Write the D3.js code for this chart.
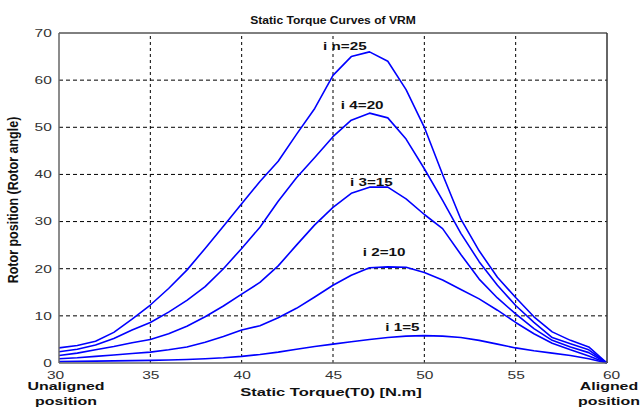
<!DOCTYPE html>
<html>
<head>
<meta charset="utf-8">
<script src="https://cdn.jsdelivr.net/npm/d3@7"></script>
<style>
  html, body { margin: 0; padding: 0; background: #fff; }
  svg { display: block; }
  text { font-family: "Liberation Sans", Arial, sans-serif; }
  .tick text { font-size: 10.7px; fill: #333; }
  .lbl { font-weight: bold; fill: #111; }
</style>
</head>
<body>
<div id="chart"></div>
<script>
const width = 640;
const height = 408;
const margin = { top: 33, right: 33, bottom: 45, left: 59 };
const SX = 1.45; // the source picture is stretched sideways, so text is too

// static torque values (x axis)
const torque = [30, 31, 32, 33, 34, 35, 36, 37, 38, 39, 40, 41, 42, 43, 44, 45,
  46, 47, 48, 49, 50, 51, 52, 53, 54, 55, 56, 57, 58, 59, 60];

const curveNames = ['i n=25', 'i 4=20', 'i 3=15', 'i 2=10', 'i 1=5'];

const i25 = [3.2, 3.7, 4.6, 6.5, 9.3, 12.3, 15.8, 19.7, 24.3, 29, 33.8, 38.5, 42.8, 48.5, 54, 61,
  65, 66, 64, 58, 50, 40, 30.5, 23.8, 18.2, 13.9, 9.8, 6.6, 4.8, 3.4, 0];
const i20 = [2.4, 2.9, 3.8, 5.2, 7, 8.6, 10.8, 13.3, 16.2, 20, 24.3, 28.8, 34.3, 39.3, 43.6, 48,
  51.5, 53, 52, 47.5, 41.2, 34.5, 27.5, 21.5, 16.5, 12.2, 8.6, 5.4, 4.1, 2.8, 0];
const i15 = [1.6, 2.1, 2.8, 3.5, 4.3, 5, 6.2, 7.8, 9.8, 12.1, 14.6, 17.1, 20.6, 25, 29.3, 33,
  36, 37.3, 37.3, 34.8, 31.5, 28.5, 23, 17.8, 13.8, 10.4, 7.3, 4.8, 3.4, 2.2, 0];
const i10 = [0.9, 1.1, 1.4, 1.7, 2, 2.3, 2.8, 3.4, 4.4, 5.6, 7, 7.9, 9.6, 11.6, 14, 16.5,
  18.6, 20.2, 20.4, 20.3, 19.2, 17.6, 15.6, 13.6, 11.2, 8.6, 6.2, 4.2, 2.8, 1.5, 0];
const i5 = [0.3, 0.35, 0.4, 0.45, 0.5, 0.55, 0.65, 0.75, 0.9, 1.1, 1.4, 1.8, 2.3, 2.9, 3.5, 4,
  4.5, 5, 5.4, 5.7, 5.8, 5.7, 5.4, 4.8, 4, 3.2, 2.6, 2.1, 1.6, 0.9, 0];

// where each curve name sits, in data units [torque, angle]
const labelAt = [[45.65, 67.2], [46.6, 54.7], [47.1, 38.4], [47.8, 23.4], [48.8, 7.6]];

const xTicks = [30, 35, 40, 45, 50, 55, 60];
const yTicks = [0, 10, 20, 30, 40, 50, 60, 70];

const series = [i25, i20, i15, i10, i5];

const svg = d3.select('#chart')
  .append('svg')
  .attr('width', width)
  .attr('height', height);

const x = d3.scaleLinear().domain([30, 60]).range([margin.left, width - margin.right]);
const y = d3.scaleLinear().domain([0, 70]).range([height - margin.bottom, margin.top]);

// bold stretched label helper
function label(px, py, txt, size, sx = SX) {
  return svg.append('text')
    .attr('class', 'lbl')
    .attr('transform', `translate(${px},${py}) scale(${sx},1)`)
    .attr('dy', '0.36em')
    .attr('text-anchor', 'middle')
    .style('font-size', size + 'px')
    .text(txt);
}

// grid
svg.append('g')
  .selectAll('line')
  .data(xTicks.slice(1, -1))
  .enter()
  .append('line')
  .attr('x1', d => x(d)).attr('x2', d => x(d))
  .attr('y1', y(0)).attr('y2', y(70))
  .attr('stroke', '#000')
  .attr('stroke-dasharray', '3,3');

svg.append('g')
  .selectAll('line')
  .data(yTicks.slice(1, -1))
  .enter()
  .append('line')
  .attr('x1', x(30)).attr('x2', x(60))
  .attr('y1', d => y(d)).attr('y2', d => y(d))
  .attr('stroke', '#000')
  .attr('stroke-dasharray', '4,3');

// curves
const line = d3.line()
  .x((d, i) => x(torque[i]))
  .y(d => y(d));

svg.append('g')
  .selectAll('path')
  .data(series)
  .enter()
  .append('path')
  .attr('d', d => line(d))
  .attr('fill', 'none')
  .attr('stroke', '#0000ff')
  .attr('stroke-width', 1.6)
  .attr('stroke-linejoin', 'round');

// box
svg.append('line').attr('x1', x(30)).attr('x2', x(60)).attr('y1', y(70)).attr('y2', y(70))
  .attr('stroke', '#000').attr('stroke-width', 1);
svg.append('line').attr('x1', x(60)).attr('x2', x(60)).attr('y1', y(70)).attr('y2', y(0))
  .attr('stroke', '#333').attr('stroke-width', 1.5);
svg.append('line').attr('x1', x(30)).attr('x2', x(30)).attr('y1', y(70)).attr('y2', y(0))
  .attr('stroke', '#666').attr('stroke-width', 1.5);
svg.append('line').attr('x1', x(30)).attr('x2', x(60)).attr('y1', y(0)).attr('y2', y(0))
  .attr('stroke', '#666').attr('stroke-width', 1.5);

// axes
const xAxis = svg.append('g')
  .attr('transform', `translate(0,${y(0)})`)
  .call(d3.axisBottom(x).tickValues(xTicks).tickSize(0).tickPadding(8));
xAxis.select('.domain').remove();
xAxis.selectAll('.tick text')
  .attr('transform', d => `translate(${d === 30 ? -4 : d === 60 ? 4 : 0},0) scale(${SX},1)`);

const yAxis = svg.append('g')
  .attr('transform', `translate(${x(30)},0)`)
  .call(d3.axisLeft(y).tickValues(yTicks).tickSize(0).tickPadding(5));
yAxis.select('.domain').remove();
yAxis.selectAll('.tick text').attr('transform', `scale(${SX},1)`);

// curve names
curveNames.forEach((name, i) => {
  label(x(labelAt[i][0]), y(labelAt[i][1]), name, 10.5);
});

// titles
label((x(30) + x(60)) / 2, 20, 'Static Torque Curves of VRM', 10.8, 1.12);
label(331, 392, 'Static Torque(T0) [N.m]', 11.4);

svg.append('text')
  .attr('class', 'lbl')
  .attr('transform', 'translate(13,200) scale(1.15,1) rotate(-90)')
  .attr('dy', '0.36em')
  .attr('text-anchor', 'middle')
  .style('font-size', '12.5px')
  .text('Rotor position (Rotor angle)');

const ends = [
  { text: ['Unaligned', 'position'], cx: 66 },
  { text: ['Aligned', 'position'], cx: 609 }
];
ends.forEach(e => {
  e.text.forEach((t, k) => label(e.cx, 386 + k * 15.5, t, 11));
});
</script>
</body>
</html>
